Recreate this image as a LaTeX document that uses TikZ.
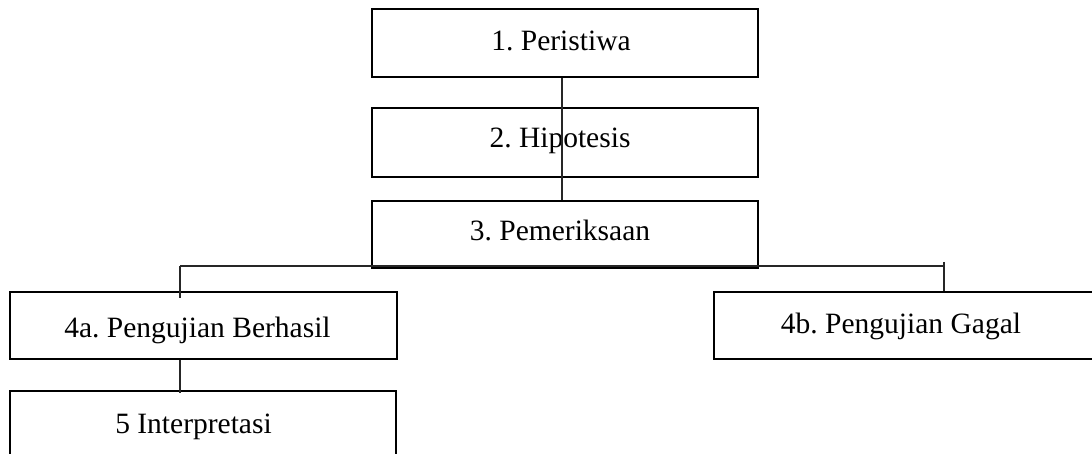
\documentclass[tikz,border=0pt]{standalone}
\usepackage{fontspec}
\setmainfont{Liberation Serif}
\frenchspacing
\begin{document}
\begin{tikzpicture}[x=1pt,y=-1pt,
  boxstyle/.style={draw=black,line width=2.8pt,rectangle,inner sep=0pt},
  lbl/.style={anchor=base,inner sep=0pt,font=\fontsize{29.5}{34}\selectfont\frenchspacing},
  conn/.style={draw=black!85,line width=1.1pt}]
\clip (0,0) rectangle (1092,454);
\fill[white] (0,0) rectangle (1092,454);
% boxes
\node[boxstyle,minimum width=386pt,minimum height=68pt] (b1) at (565,43) {};
\node[boxstyle,minimum width=386pt,minimum height=69pt] (b2) at (565,142.5) {};
\node[boxstyle,minimum width=386pt,minimum height=67pt] (b3) at (565,234.5) {};
\node[boxstyle,minimum width=387pt,minimum height=67pt] (b4a) at (203.5,325.5) {};
\node[boxstyle,minimum width=386pt,minimum height=67pt] (b4b) at (907,325.5) {};
\node[boxstyle,minimum width=386pt,minimum height=69pt] (b5) at (203,425.5) {};
% labels
\node[lbl] (t1) at (561,51) {1. Peristiwa};
\node[lbl] (t2) at (560,148) {2. Hipotesis};
\node[lbl] (t3) at (560,241) {3. Pemeriksaan};
\node[lbl] (t4a) at (197.5,337) {4a. Pengujian Berhasil};
\node[lbl] (t4b) at (901,334) {4b. Pengujian Gagal};
\node[lbl] (t5) at (193.5,433) {5 Interpretasi};
% connectors
\coordinate (hl) at (180,266);
\coordinate (hr) at (944,266);
\coordinate (aIn) at (180,298);
\coordinate (bUp) at (944,262);
\coordinate (fiveIn) at (180,393);
\draw[conn] (b1.south -| 562,0) -- (b3.north -| 562,0);
\draw[conn] (hl) -- (hr);
\draw[conn] (hl) -- (aIn);
\draw[conn] (bUp) -- (b4b.north -| hr);
\draw[conn] (b4a.south -| hl) -- (fiveIn);
\end{tikzpicture}
\end{document}
